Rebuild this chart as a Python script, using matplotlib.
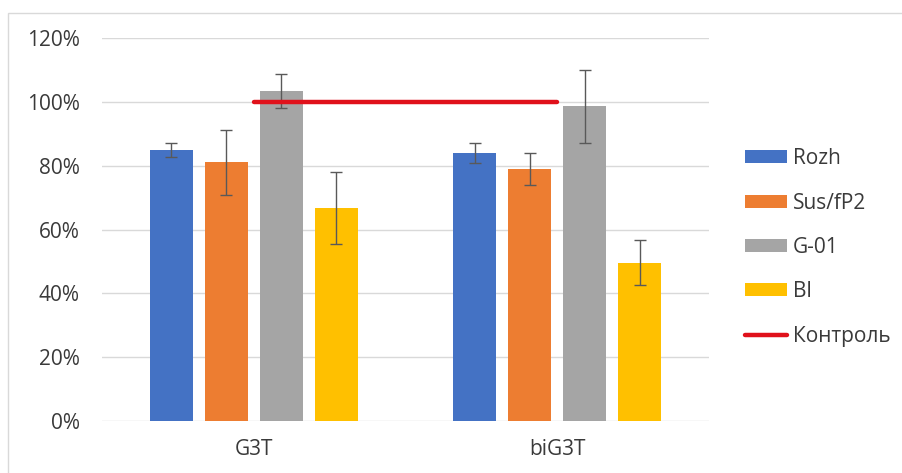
import numpy as np
import matplotlib
matplotlib.use('Agg')
import matplotlib.pyplot as plt
from matplotlib.patches import Rectangle
from matplotlib.ticker import PercentFormatter

# Data
categories = ['G3T', 'biG3T']
series = ['Rozh', 'Sus/fP2', 'G-01', 'Bl']
values = [
    [0.85, 0.84],    # Rozh
    [0.812, 0.79],   # Sus/fP2
    [1.035, 0.987],  # G-01
    [0.668, 0.496],  # Bl
]
errors = [
    [0.023, 0.032],
    [0.102, 0.050],
    [0.052, 0.115],
    [0.112, 0.070],
]
control = [1.0, 1.0]
control_label = 'Контроль'

colors = ['#4472c4', '#ed7d31', '#a5a5a5', '#ffc000']
red = '#e0111b'
txt = '#3a3a3a'

plt.rcParams['font.family'] = ['Open Sans', 'DejaVu Sans']

fig = plt.figure(figsize=(9.03, 4.73), dpi=100)
ax = fig.add_axes([0.113, 0.110, 0.672, 0.809])

# chart border (Excel chart area)
fig.patches.append(Rectangle((0.009, -0.1), 1.1, 1.073, transform=fig.transFigure,
                             fill=False, edgecolor='#d9d9d9', lw=1.0))

x = np.arange(len(categories))
step = 0.181
width = 0.142
for i, (name, vals, errs, c) in enumerate(zip(series, values, errors, colors)):
    pos = x + (i - 1.5) * step
    ax.bar(pos, vals, width, color=c, label=name, zorder=2)
    ax.errorbar(pos, vals, yerr=errs, fmt='none', ecolor='#595959',
                elinewidth=1.0, capsize=4.5, capthick=1.0, zorder=3)

ax.plot(x, control, color=red, lw=3.2, solid_capstyle='round',
        label=control_label, zorder=4)

ax.set_xlim(-0.5, 1.5)
ax.set_ylim(0, 1.2)
ax.set_yticks(np.arange(0, 1.21, 0.2))
ax.yaxis.set_major_formatter(PercentFormatter(1.0, decimals=0))
ax.set_xticks(x)
ax.set_xticklabels(categories)
ax.grid(axis='y', color='#d9d9d9', lw=1.0, zorder=0)
ax.set_axisbelow(True)
for s in ax.spines.values():
    s.set_visible(False)
ax.tick_params(axis='both', length=0, labelsize=15, colors=txt)
ax.tick_params(axis='y', pad=16)
ax.tick_params(axis='x', pad=13)

handles, labels = ax.get_legend_handles_labels()
# bars first, then control line
order = [1, 2, 3, 4, 0]
fig.legend([handles[k] for k in order], [labels[k] for k in order],
           loc='center left', bbox_to_anchor=(0.825, 0.477), frameon=False,
           fontsize=15, labelcolor=txt, handlelength=2.0, handleheight=0.6,
           handletextpad=0.3, labelspacing=1.12, borderpad=0, borderaxespad=0)

fig.savefig('out.png', dpi=100)
